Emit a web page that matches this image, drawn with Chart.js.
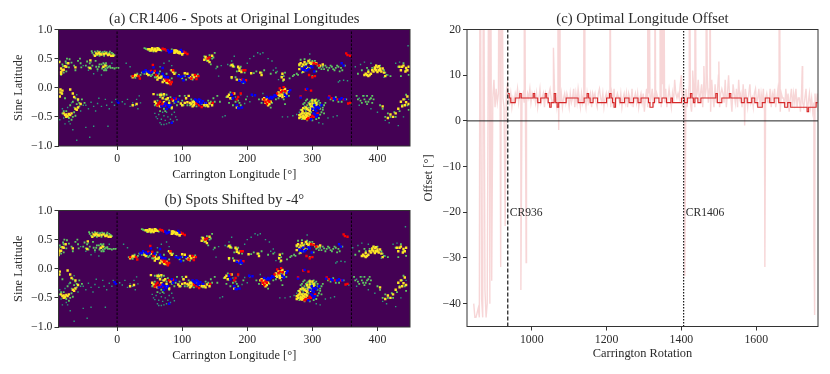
<!DOCTYPE html>
<html>
<head>
<meta charset="utf-8">
<script src="https://cdn.jsdelivr.net/npm/chart.js@4"></script>
<style>
html, body { margin: 0; padding: 0; background: #fff; overflow: hidden; }
canvas { position: absolute; }
</style>
</head>
<body>
<canvas id="panelA" style="left:0;top:0"></canvas>
<canvas id="panelB" style="left:0;top:181px"></canvas>
<canvas id="panelC" style="left:415px;top:0"></canvas>
<script>
// spots as [longitude, sine latitude]
const tealSpots = [
  [-88,-.55],[-80,-.62],[-72,-.62],[-68,-.72],[-62,-.9],[-42,-.85],[-48,-.68],[-36,-.66],[-14,-.66],
  [-44,.3],[-36,.24],[-24,.22],[-40,.44],[-52,.38],[-30,.29],[-8,.42],[-16,.3],
  [-48,-.3],[-44,-.36],[-40,-.25],[-36,-.32],[-33,-.4],[-30,-.27],[-28,-.18],[-24,-.32],[-18,-.2],[-16,-.3],[-12,-.36],[-8,-.25],[-4,-.3],[-2,-.2],
  [8,-.24],[12,-.28],[16,-.2],[20,-.32],[24,-.26],[28,-.3],[30,-.2],[34,-.14],[32,-.36],[36,-.26],
  [14,.42],[20,.36],[72,.42],[80,.46],[84,.38],[82,.3],[66,.36],
  [60,-.5],[64,-.46],[68,-.54],[72,-.48],[76,-.42],[84,-.46],[90,-.5],[66,-.6],[72,-.63],[80,-.6],[86,-.58],[92,-.55],
  [160,.38],[152,.33],[156,.2],[170,.4],[176,.46],[180,.54],
  [162,-.5],[166,-.48],[176,-.2],[182,-.16],[190,-.12],[200,-.15],[196,-.27],[204,-.24],[208,-.14],[224,-.1],
  [204,.5],[200,.42],[210,.54],[216,.6],[220,.58],[224,.6],[232,.5],[238,.46],[244,.34],[246,.28],[240,.3],[252,.2],[248,.14],
  [254,-.5],[262,-.5],[270,-.48],[276,-.46],[310,-.6],[316,-.62],[324,-.52],[332,-.5],[338,-.48],
  [342,.12],[348,.13],[354,.12],[340,.1],[296,.58],[280,-.42],
  [366,.36],[374,.4],[380,.44],[390,.42],[410,.18],[416,.22],[428,.42],[434,.44],
  [360,-.28],[372,-.18],[372,-.3],[380,-.14],[390,-.36],[400,-.42],[418,-.6],[412,-.56],[432,-.65],[440,-.5],[448,-.2],[447,.72],
  [-70,-.26],[-66,-.34],[-62,-.12],[-56,-.4],[-52,-.3],[-76,-.34],[-84,-.36],[-82,-.52],[-74,-.58],
  [58,-.44],[62,-.53],[70,-.42],[74,-.56],[78,-.5],[82,-.54],[88,-.42],[68,-.63],[76,-.62]
];
const greenSpots = [
  [-39,.63],[-36,.57],[-34,.62],[-30,.63],[-26,.62],[-22,.61],[-20,.55],[-16,.61],[-12,.6],[-6,.58],[-4,.56],
  [-38,.6],[-31,.56],[-27,.55],[-23,.6],[-19,.62],[-15,.58],[-11,.62],[-8,.6],
  [-88,.45],[-83,.37],[-79,.45],[-77,.5],[-73,.49],[-70,.43],[-66,.38],[-64,.3],[-60,.46],[-57,.5],[-56,.42],[-55,.35],
  [-46,.45],[-44,.35],[-42,.42],[-40,.33],[-38,.38],[-33,.46],[-28,.36],[-24,.4],[-22,.35],[-19,.4],[-18,.33],[-16,.38],[-13,.36],[-10,.34],[-7,.34],[-4,.33],[-1,.34],[2,.34],
  [-48,.38],[-32,.36],[-30,.32],[-27,.4],[-23,.33],[-20,.3],[-17,.3],[-15,.34],[-11,.37],[-21,.42],[-17,.42],
  [-86,.22],[-78,.28],[-74,.35],[-84,.4],[-82,.26],[-78,.42],
  [-84,-.1],[-80,-.18],[-72,-.3],[-68,-.24],[-64,-.18],[-60,-.22],[-58,-.32],[-54,-.2],[-50,-.26],[-78,-.4],[-70,-.55],[-64,-.48],
  [-74,-.52],[-68,-.5],[-84,-.44],[-82,-.4],[-66,-.42],[-58,-.26],[-62,-.28],
  [22,.2],[34,.2],[38,.26],[44,.28],[52,.2],[60,.18],[68,.16],[76,.24],[90,.26],[95,.22],[104,.2],[110,.18],
  [36,.22],[42,.24],[50,.22],[54,.22],[58,.18],[64,.24],[66,.28],[70,.2],[84,.16],[76,.08],[28,.17],[31,.24],[100,.16],[106,.14],[116,.14],[124,.23],
  [42,.68],[46,.66],[50,.63],[56,.62],[64,.68],[72,.66],[84,.66],[94,.62],[44,.67],[68,.64],
  [138,.46],[134,.54],[142,.56],[150,.6],[148,.52],[144,.4],[154,.36],[136,.5],[146,.5],
  [174,.38],[180,.36],[186,.34],[192,.3],[196,.26],[182,.18],[188,.14],[176,.16],[194,.08],[178,.4],[184,.28],[190,.36],
  [210,.25],[214,.28],[222,.26],[236,.24],[226,.3],[244,.26],[256,.2],[258,.26],[255,.12],
  [62,-.12],[68,-.1],[74,-.2],[80,-.22],[96,-.14],[106,-.18],[116,-.26],[126,-.24],[140,-.22],[148,-.18],[154,-.14],[158,-.24],[72,-.36],[80,-.3],
  [58,-.3],[62,-.22],[66,-.16],[72,-.14],[76,-.12],[82,-.16],[88,-.26],[92,-.3],[94,-.24],[100,-.22],[102,-.3],[104,-.14],[108,-.3],[112,-.3],[114,-.2],[118,-.22],[122,-.32],[130,-.28],[136,-.32],[144,-.24],[150,-.24],[66,-.4],[74,-.4],[84,-.36],
  [168,-.16],[172,-.26],[178,-.3],[186,-.22],[190,-.3],[198,-.2],[174,-.08],[182,-.24],[188,-.26],
  [218,-.2],[236,-.34],[244,-.2],[258,-.28],[256,-.08],[222,-.26],[238,-.26],[248,-.18],[256,-.2],[264,-.14],
  [270,.2],[278,.22],[284,.26],[290,.3],[296,.34],[312,.36],[318,.32],[324,.3],[330,.36],[336,.34],[344,.34],[350,.38],[306,.28],[300,.2],[288,.38],[302,.42],[322,.35],[342,.28],
  [265,.16],[272,.22],[276,.24],[280,.38],[282,.48],[288,.49],[292,.42],[296,.48],[300,.46],[304,.46],[308,.38],[310,.34],[314,.32],[316,.36],[320,.38],[326,.34],[328,.38],[332,.32],[334,.3],[338,.38],[340,.36],[346,.3],
  [296,-.3],[300,-.24],[306,-.2],[312,-.26],[318,-.3],[320,-.26],[290,-.38],[286,-.44],[316,-.34],[296,-.52],[284,-.54],
  [290,-.22],[294,-.26],[298,-.22],[302,-.28],[304,-.24],[308,-.28],[312,-.3],[310,-.22],[296,-.34],[292,-.3],[288,-.32],[286,-.28],[282,-.38],[316,-.38],[318,-.44],[284,-.5],[292,-.56],[300,-.56],[306,-.54],[310,-.52],
  [288,-.26],[292,-.2],[296,-.24],[300,-.2],[304,-.26],[308,-.24],[300,-.3],[294,-.34],[290,-.42],[288,-.36],[312,-.36],[314,-.42],[312,-.46],[298,-.42],[302,-.34],
  [328,-.2],[336,-.16],[345,-.24],[352,-.2],[332,-.22],[340,-.24],
  [368,-.14],[374,-.22],[380,-.2],[384,-.14],[388,-.2],[392,-.14],[376,-.26],[384,-.28],[392,-.26],[370,-.2],[378,-.14],[386,-.24],[390,-.18],[394,-.2],[382,-.24],
  [370,.24],[376,.3],[384,.34],[398,.38],[410,.3],[412,.26],[420,.2],[432,.36],[440,.42],[444,.3],[448,.22],[436,.2],[386,.3],[392,.34],[404,.38],[414,.22],
  [408,-.36],[404,-.3],[416,-.44],[420,-.5],[428,-.5],[434,-.4],[438,-.3],[442,-.2],[446,-.3],[444,-.12],[448,-.38],[412,-.5],[426,-.42]
];
const yellowSpots = [
  [-32,.59],[-28,.6],[-24,.57],[-17,.59],[-14,.56],[-9,.55],[-34,.55],[-30,.58],[-26,.58],[-20,.58],[-12,.57],[-6,.55],
  [-86,.27],[-86,.33],[-80,.37],[-75,.42],[-89,.44],[-82,.31],[-64,.35],[-42,.34],[-21,.36],[-18,.38],[-41,.47],[-84,.3],[-86,.24],[-78,.36],
  [-87,-.03],[-85,-.1],[-88,-.15],[-72,-.03],[-68,-.1],[-66,-.16],[-80,-.47],[-76,-.49],[-74,-.45],[-70,-.44],[-62,-.38],[-60,-.34],[-56,-.28],[-60,-.2],[-78,-.5],[24,-.3],[30,-.28],
  [-82,-.44],[-78,-.46],[-72,-.47],[-64,-.36],[-87,-.08],[-84,-.05],
  [48,.66],[54,.66],[58,.65],[62,.65],[90,.64],[96,.62],[100,.59],[88,.6],
  [50,.66],[52,.64],[54,.68],[56,.64],[58,.67],[60,.63],[62,.68],[64,.66],[66,.65],[88,.64],[90,.61],[92,.63],[94,.6],[96,.59],[98,.6],[100,.57],[102,.6],
  [26,.2],[30,.21],[46,.24],[56,.26],[62,.2],[66,.17],[68,.19],[74,.12],[78,.08],[82,.07],[72,.14],[62,.14],[28,.22],[24,.18],[48,.22],[64,.17],[70,.1],[76,.1],[80,.12],
  [86,.27],[88,.24],[104,.25],[112,.18],[118,.18],[122,.2],[116,.22],[84,.3],[108,.24],[114,.16],
  [136,.53],[140,.47],[146,.55],[142,.44],[138,.5],[134,.48],
  [176,.39],[188,.33],[191,.27],[184,.14],[190,.13],[176,.18],[188,.29],[186,.36],[178,.37],
  [206,.25],[220,.26],[222,.22],[253,.18],[254,.24],[256,.14],
  [56,-.11],[68,-.13],[72,-.3],[70,-.18],[60,-.27],[72,-.25],[78,-.18],[86,-.22],[98,-.27],[106,-.18],[108,-.25],[116,-.24],[120,-.27],[118,-.3],[134,-.3],[138,-.3],[142,-.27],[146,-.3],[110,-.14],
  [58,-.24],[62,-.3],[66,-.32],[76,-.2],[80,-.26],[84,-.34],[100,-.3],[104,-.26],[112,-.26],[114,-.28],[118,-.25],[116,-.32],[136,-.27],[140,-.32],[66,-.12],[72,-.11],
  [170,-.15],[172,-.12],[180,-.1],[184,-.34],[174,-.18],
  [226,-.18],[230,-.2],[232,-.24],[234,-.28],[228,-.22],[252,-.1],[256,-.04],[258,-.02],[250,-.14],[254,-.16],[262,-.06],
  [224,-.2],[228,-.26],[232,-.3],[236,-.24],[248,-.08],[252,-.04],[254,-.12],[258,-.14],[260,-.1],[248,-.12],
  [282,-.46],[285,-.41],[288,-.5],[290,-.47],[294,-.44],[296,-.4],[300,-.33],[302,-.38],[300,-.27],[292,-.36],[288,-.53],[280,-.47],[286,-.35],[306,-.3],
  [282,-.5],[284,-.44],[286,-.48],[288,-.44],[290,-.52],[292,-.44],[294,-.5],[296,-.46],[284,-.38],[298,-.36],[280,-.52],[292,-.48],[286,-.52],
  [290,-.34],[294,-.38],[298,-.32],[304,-.22],[300,-.22],[296,-.28],[306,-.26],
  [282,.42],[284,.36],[280,.32],[288,.44],[294,.46],[298,.4],[306,.42],[312,.38],[316,.4],[286,.28],[292,.34],[280,.4],[286,.4],[290,.4],[296,.43],[300,.43],
  [380,.22],[384,.22],[388,.22],[394,.28],[396,.32],[400,.35],[404,.33],[406,.28],[398,.38],[410,.26],[386,.27],[402,.3],
  [382,.24],[386,.2],[390,.24],[392,.3],[398,.3],[400,.27],[396,.35],[402,.37],[404,.3],[408,.33],[412,.2],
  [434,.36],[438,.36],[444,.34],[448,.36],[436,.3],[443,.28],[440,.38],[446,.3],
  [440,-.2],[444,-.25],[438,-.32],[432,-.36],[428,-.44],[424,-.5],[416,-.52],[408,-.32],[446,-.15],[448,-.28],[420,-.46],[436,-.24],[442,-.3]
];
const redSpots = [
  [24,.2],[33,.2],[35,.16],[52,.29],[58,.29],[60,.22],[78,.14],[80,.1],[82,.06],[74,.16],[55,.39],[76,.12],[84,.1],
  [73,.66],[76,.64],[105,.6],[108,.58],[86,.3],[120,.22],[125,.2],[114,.16],[122,.15],[70,.67],[102,.62],
  [139,.5],[142,.52],
  [194,.3],[197,.3],[192,.14],[198,.13],
  [302,.42],[306,.41],[300,.18],[304,.2],[295,.22],[310,.38],
  [352,.59],[358,.55],[354,.56],
  [64,-.27],[70,-.28],[74,-.3],[66,-.24],[84,-.2],[90,-.19],[122,-.27],[126,-.3],[130,-.33],[147,-.26],[62,-.3],[68,-.31],[124,-.24],
  [178,-.1],[186,-.16],[190,-.1],[184,-.2],
  [226,-.2],[228,-.24],[232,-.22],[230,-.28],[246,-.1],[250,-.01],[258,-.06],[256,.01],[254,-.05],[234,-.24],[252,-.08],
  [292,-.54],[298,-.52],[302,-.5],[308,-.44],[290,-.03],[298,-.05],[282,-.15],[294,-.52],[300,-.48],
  [326,-.15],[330,-.18],[338,-.2],[355,-.27],[358,-.26],[348,-.2]
];
const blueSpots = [
  [40,.27],[44,.3],[48,.28],[54,.27],[62,.26],[70,.24],[78,.18],[70,.34],[56,.35],[42,.27],[50,.26],[72,.2],[74,.18],
  [78,.64],[80,.61],[84,.63],[98,.65],[100,.62],[82,.62],
  [94,.2],[98,.19],[102,.2],[110,.2],[102,.13],
  [194,.14],[196,.1],[188,.12],[192,.1],
  [284,.33],[288,.3],[290,.36],[294,.32],[298,.37],[300,.35],[303,.28],[345,.42],[348,.38],[286,.31],[292,.3],
  [0,-.23],[2,-.26],[68,-.32],[74,-.27],[78,-.3],[82,-.3],[88,-.18],[94,-.2],[76,-.36],[90,-.24],[84,-.6],[72,-.31],[80,-.33],[76,-.29],
  [120,-.2],[124,-.24],[128,-.22],[132,-.23],[136,-.26],[128,-.27],[122,-.22],[126,-.2],[130,-.26],
  [176,-.12],[178,-.18],[186,-.35],[184,-.3],[188,-.35],[192,-.34],[207,-.12],[212,-.13],
  [230,-.16],[236,-.16],[242,-.13],[238,-.18],[244,-.14],[258,-.12],[264,-.07],[266,-.04],[260,-.15],[234,-.18],[240,-.16],
  [303,-.3],[305,-.34],[300,-.36],[306,-.4],[308,-.47],[304,-.46],[310,-.35],[298,-.54],[314,-.3],[292,-.02],[282,-.17],[304,-.38],[308,-.33],[306,-.5],[302,-.44],
  [325,-.17],[333,-.18],[342,-.2],[350,-.2],[345,-.18],[335,-.2]
];
const lonTicks = [0, 100, 200, 300, 400];
const latTicks = [-1, -0.5, 0, 0.5, 1];
const syncLongitudes = [0, 360];
const shiftDeg = -4;

// panel (c): ordinary offsets every 3 rotations from rawStart
const rawStart = 938;
const rawOffset = [
  5,4,6,3,5,4,6,5,7,4,6,5,5,6,4,5,4,6,5,7,
  4,6,5,6,4,6,3,5,7,4,5,6,3,6,5,4,6,7,5,4,4,6,5,3,6,5,4,6,3,5,
  6,4,6,5,3,6,4,5,7,3,6,4,7,5,3,6,4,6,5,3,6,4,5,6,3,6,5,6,4,3,6,7,5,4,
  6,3,5,6,4,6,5,3,6,4,7,3,5,6,5,4,6,3,5,6,4,6,3,6,5,4,7,3,5,6,4,6,3,5,
  6,4,6,2,5,7,3,6,4,5,7,3,6,4,6,5,5,5,3,8,5,4,7,3,5,7,5,3,6,4,9,6,5,6,5,8,10,3,6,4,7,3,5,8,4,2,6,
  7,3,5,6,9,4,6,8,3,9,5,7,10,4,7,2,9,5,3,8,4,6,10,3,6,7,6,4,9,3,6,10,5,5,2,8,6,4,7,3,9,5,6,3,8,4,
  7,5,3,6,8,4,5,3,6,7,4,5,7,3,6,4,7,2,5,6,4,4,7,3,6,5,7,3,5,7,4,2,6,5,5,3,7,4,6,2,5,7,3,6,4,7,3,5,5,2,
  6,4,3,5,7,2,4,6,3,5,2,4,6,3,6,2,5,3,4,2,6,3,4,1,5,3,5,7,3,5,4,3,5,2,6,3
];
// rotations with outlying offsets, values over 20 run off the top of the panel
const outlierRotations = [
  845,848,851,854,857,860,862,866,869,871,875,878,881,886,888,890,893,896,899,902,905,908,911,913,917,920,923,926,929,932,935,
  971,980,985,1058,1070,1072,1075,1140,1209,1310,1313,1329,1343,1346,1349,1352,
  1409,1421,1430,1436,1460,1466,1476,1500,1569,1623,1661,1723,1754,1756
];
const outlierOffsets = [
  -40,-43,-43,-42,-41,-43,60,-39,-43,60,-37,-43,-40,60,-40,60,-35,5,9,3,7,4,6,60,-32,60,5,3,-23,6,8,
  -37,60,-31,16,60,-2,60,60,60,60,60,60,60,60,60,60,
  -34,60,11,60,12,60,60,13,-1,-32,60,12,-26,-42.5
];
// running median offset every 4 rotations from medianStart
const medianStart = 936;
const medianOffset = [
  6,5,4,4,4,5,5,5,6,5,5,5,5,5,5,5,5,6,5,5,4,4,5,5,5,6,5,4,3,4,4,6,4,3,4,4,4,4,4,5,
  5,5,5,5,5,5,5,4,4,4,4,5,5,6,5,4,4,5,5,5,4,4,4,4,4,4,5,5,6,5,4,3,5,5,5,
  4,4,4,5,5,5,4,4,4,5,5,5,4,4,5,5,5,5,5,4,3,3,4,5,5,5,4,4,5,5,5,4,4,4,5,4,4,4,4,4,4,5,5,4,
  4,5,5,6,5,4,5,5,4,4,5,5,5,5,5,5,5,5,5,5,6,4,4,4,5,5,5,5,5,6,5,5,5,5,5,5,5,4,4,5,5,
  4,4,4,5,5,4,4,3,3,3,4,4,5,5,5,4,4,4,5,5,5,4,4,4,4,3,3,4,4,3,3,3,3,3,3,3,3,3,3,3,2,3,3,3,3,3,4,4
];
const rotTicks = [1000, 1200, 1400, 1600];
const offsetTicks = [-40, -30, -20, -10, 0, 10, 20];
const markedRotations = [936, 1406];
const markedLabels = ["CR936", "CR1406"];

const serif = '"Liberation Serif", serif';
const textColor = "#2b2b2b";

function tickFormat(digits) {
  return v => (v < 0 ? "\u2212" : "") + Math.abs(v).toFixed(digits);
}

// paints background, frame, title and notes around the plot area
function panelPlugin(title, background, notes) {
  return {
    id: "panel",
    beforeDatasetsDraw(chart) {
      const a = chart.chartArea, ctx = chart.ctx;
      if (background) {
        ctx.fillStyle = background;
        ctx.fillRect(a.left, a.top, a.right - a.left, a.bottom - a.top);
      }
    },
    afterDraw(chart) {
      const a = chart.chartArea, ctx = chart.ctx;
      ctx.save();
      ctx.strokeStyle = "#333";
      ctx.lineWidth = 1;
      ctx.strokeRect(a.left, a.top, a.right - a.left, a.bottom - a.top);
      ctx.fillStyle = textColor;
      ctx.font = "14.7px " + serif;
      ctx.textAlign = "center";
      ctx.fillText(title, (a.left + a.right) / 2, a.top - 7);
      if (notes) {
        ctx.font = "11.6px " + serif;
        ctx.textAlign = "left";
        notes.forEach(n => {
          ctx.fillText(n.text, chart.scales.x.getPixelForValue(n.x) + 2, chart.scales.y.getPixelForValue(n.y) + 4);
        });
      }
      ctx.restore();
    }
  };
}

function axis(min, max, ticks, label, digits, fitSize, isX, titleGap) {
  return {
    type: "linear",
    min: min,
    max: max,
    afterBuildTicks: s => { s.ticks = ticks.map(v => ({ value: v })); },
    afterFit: s => { if (isX) s.height = fitSize; else s.width = fitSize; },
    grid: { drawOnChartArea: false, drawTicks: true, tickLength: 4, tickColor: "#333" },
    border: { display: false },
    title: {
      display: true,
      text: label,
      color: textColor,
      font: { family: serif, size: 12.4 },
      padding: isX ? { top: 2, bottom: titleGap } : { top: titleGap, bottom: 0 }
    },
    ticks: {
      color: textColor,
      font: { family: serif, size: 11.8 },
      maxRotation: 0,
      autoSkip: false,
      padding: 2,
      callback: tickFormat(digits)
    }
  };
}

function spotSet(points, colour, size, shift) {
  return {
    type: "scatter",
    data: points.map(p => ({ x: p[0] + shift, y: p[1] })),
    backgroundColor: colour,
    borderWidth: 0,
    pointStyle: "rect",
    pointRadius: size,
    pointHoverRadius: size
  };
}

function verticalLine(x, yMin, yMax, dash, colour, width) {
  return {
    type: "line",
    data: [{ x: x, y: yMin }, { x: x, y: yMax }],
    borderColor: colour,
    borderWidth: width,
    borderDash: dash,
    pointRadius: 0,
    tension: 0
  };
}

function spotChart(id, title, shift) {
  const el = document.getElementById(id);
  el.width = 415;
  el.height = 182;
  const lines = syncLongitudes.map(x => verticalLine(x, -1, 1, [2.5, 1.5], "#000", 0.9));
  new Chart(el, {
    data: {
      datasets: lines.concat([
        spotSet(blueSpots, "#0000ff", 1.7, shift),
        spotSet(redSpots, "#ff0000", 1.7, shift),
        spotSet(yellowSpots, "#fde725", 1.7, shift),
        spotSet(greenSpots, "#5ec962", 1.3, shift),
        spotSet(tealSpots, "#2a9d7c", 1, shift)
      ])
    },
    options: {
      responsive: false,
      animation: false,
      layout: { padding: { top: 29.5, right: 5, left: 0, bottom: 0 } },
      plugins: { legend: { display: false }, tooltip: { enabled: false } },
      scales: {
        x: axis(-90, 450, lonTicks, "Carrington Longitude [\u00b0]", 0, 36, true, 0),
        y: axis(-1, 1, latTicks, "Sine Latitude", 1, 58.5, false, 11)
      }
    },
    plugins: [panelPlugin(title, "#440154")]
  });
}

spotChart("panelA", "(a) CR1406 - Spots at Original Longitudes", 0);
spotChart("panelB", "(b) Spots Shifted by -4\u00b0", shiftDeg);

// ordinary offsets and outliers together, in rotation order
const rawSeries = rawOffset.map((v, i) => ({ x: rawStart + 3 * i, y: v }))
  .concat(outlierRotations.map((x, i) => ({ x: x, y: outlierOffsets[i] })))
  .sort((p, q) => p.x - q.x);

const panelC = document.getElementById("panelC");
panelC.width = 415;
panelC.height = 363;
new Chart(panelC, {
  data: {
    datasets: [
      {
        type: "line",
        data: [{ x: 827, y: 0 }, { x: 1765, y: 0 }],
        borderColor: "#222",
        borderWidth: 1,
        pointRadius: 0
      },
      verticalLine(markedRotations[0], -45, 20, [4, 2], "#000", 1.1),
      verticalLine(markedRotations[1], -45, 20, [1.5, 1.5], "#000", 1.1),
      {
        type: "line",
        data: medianOffset.map((v, i) => ({ x: medianStart + 4 * i, y: v })),
        borderColor: "#d62728",
        borderWidth: 1.1,
        stepped: true,
        pointRadius: 0
      },
      {
        type: "line",
        data: rawSeries,
        borderColor: "rgba(214,39,40,0.19)",
        borderWidth: 1.4,
        tension: 0,
        pointRadius: 0
      }
    ]
  },
  options: {
    responsive: false,
    animation: false,
    layout: { padding: { top: 29.5, right: 12, left: 0, bottom: 0 } },
    plugins: { legend: { display: false }, tooltip: { enabled: false } },
    scales: {
      x: axis(827, 1765, rotTicks, "Carrington Rotation", 0, 36.5, true, 1.5),
      y: axis(-45, 20, offsetTicks, "Offset [\u00b0]", 0, 52, false, 6)
    }
  },
  plugins: [panelPlugin("(c) Optimal Longitude Offset", null, [
    { text: markedLabels[0], x: markedRotations[0], y: -20 },
    { text: markedLabels[1], x: markedRotations[1], y: -20 }
  ])]
});
</script>
</body>
</html>
